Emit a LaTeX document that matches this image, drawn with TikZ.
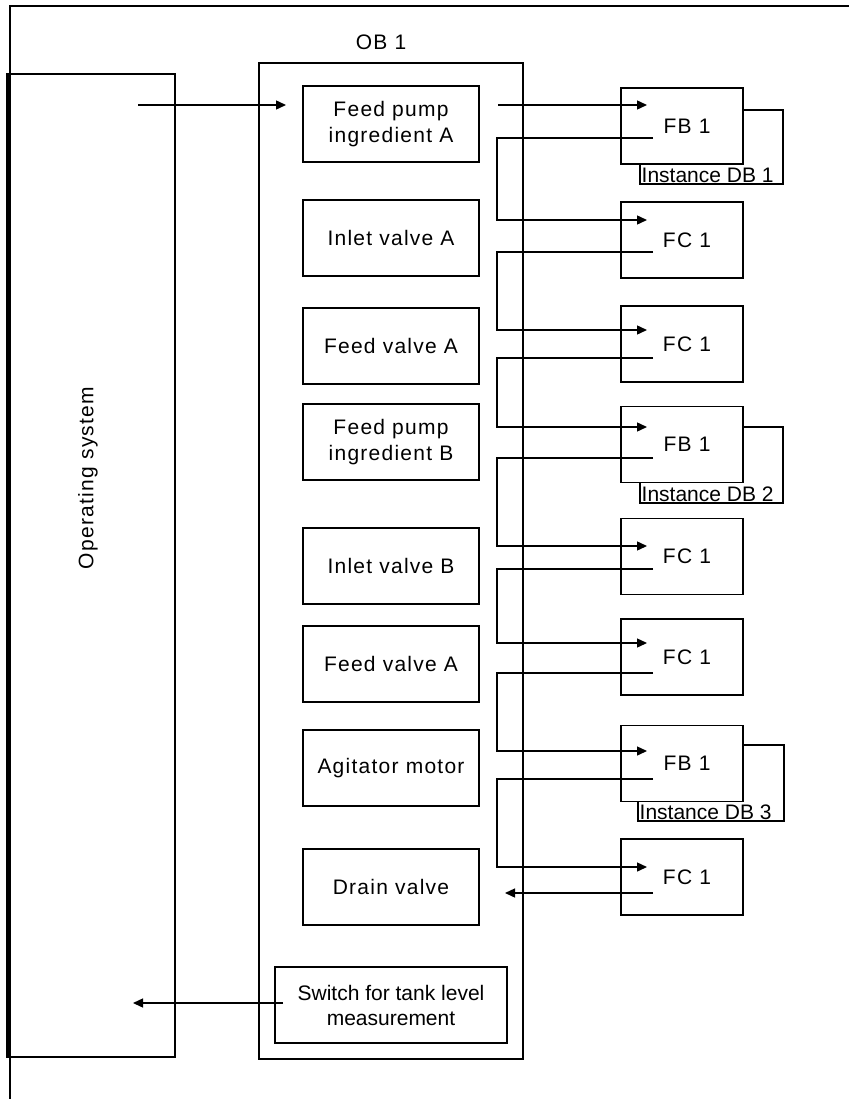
\documentclass[tikz,border=0pt]{standalone}
\usepackage{fontspec}
\setmainfont{Liberation Sans}
\newfontfamily\lsfont[LetterSpace=6]{Liberation Sans}
\usetikzlibrary{arrows.meta}
\begin{document}
\begin{tikzpicture}[x=1pt,y=-1pt,line width=1.4pt,
  txt/.style={font=\lsfont\fontsize{21}{26}\selectfont},
  obbox/.style={draw,fill=white,minimum width=176pt,minimum height=76pt,align=center,inner sep=0pt,txt},
  fbbox/.style={draw,fill=white,minimum width=122pt,minimum height=76pt,inner sep=0pt,txt},
  inst/.style={font=\fontsize{21}{24}\selectfont,inner sep=0pt,anchor=south west},
  arr/.style={-{Triangle[length=10pt,width=9pt]}}]
\useasboundingbox (0,0) rectangle (848,1099);
% outer frame
\draw (10,1099) -- (10,6) -- (850,6);
% operating system
\node[draw,minimum width=166pt,minimum height=983pt,inner sep=0pt] (os) at (92,565.5) {};
\draw[line width=4pt] (os.north west) -- (os.south west);
\node[txt,rotate=90] (ostxt) at (88,478) {Operating system};
% OB1
\node[draw,minimum width=264pt,minimum height=996pt,inner sep=0pt] (ob) at (391,561) {};
\node[txt] (obtxt) at (381,42) {OB 1};
\node[obbox] (b1) at (391,124) {Feed pump\\ingredient A};
\node[obbox] (b2) at (391,238) {Inlet valve A};
\node[obbox] (b3) at (391,346) {Feed valve A};
\node[obbox] (b4) at (391,442) {Feed pump\\ingredient B};
\node[obbox] (b5) at (391,566) {Inlet valve B};
\node[obbox] (b6) at (391,664) {Feed valve A};
\node[obbox] (b7) at (391,768) {Agitator motor};
\node[obbox] (b8) at (391,887) {Drain valve};
\node[obbox,minimum width=232pt,font=\fontsize{21}{25}\selectfont] (b9) at (391,1005) {Switch for tank level\\measurement};
% instance DB frames
\draw (743,110) -- (783,110) -- (783,184) -- (640,184) -- (640,160);
\draw (743,427) -- (783,427) -- (783,503) -- (640,503) -- (640,480);
\draw (743,745) -- (784,745) -- (784,821) -- (638,821) -- (638,798);
% right blocks
\node[fbbox] (r1) at (682,126) {\hspace*{10pt}FB 1};
\node[fbbox] (r2) at (682,240) {\hspace*{10pt}FC 1};
\node[fbbox] (r3) at (682,344) {\hspace*{10pt}FC 1};
\node[fbbox] (r4) at (682,444.5) {\hspace*{10pt}FB 1};
\node[fbbox] (r5) at (682,556.5) {\hspace*{10pt}FC 1};
\node[fbbox] (r6) at (682,657) {\hspace*{10pt}FC 1};
\node[fbbox] (r7) at (682,763.5) {\hspace*{10pt}FB 1};
\node[fbbox] (r8) at (682,877) {\hspace*{10pt}FC 1};
\node[inst] (d1) at (641,183) {Instance DB 1};
\node[inst] (d2) at (641,502) {Instance DB 2};
\node[inst] (d3) at (639,820) {Instance DB 3};
% connector points
\coordinate (osout) at (138,105);
\coordinate (b1in) at (286,105);
\coordinate (b1out) at (498,105);
\coordinate (i1) at (647,105);
\coordinate (o1) at (653,138);
\coordinate (i2) at (647,220);
\coordinate (o2) at (653,252);
\coordinate (i3) at (647,330);
\coordinate (o3) at (653,358);
\coordinate (i4) at (647,427);
\coordinate (o4) at (653,458);
\coordinate (i5) at (647,546);
\coordinate (o5) at (653,569);
\coordinate (i6) at (647,643);
\coordinate (o6) at (653,673);
\coordinate (i7) at (647,751);
\coordinate (o7) at (653,779);
\coordinate (i8) at (647,867);
\coordinate (o8) at (653,893);
\coordinate (b8in) at (505,893);
\coordinate (b9out) at (283,1003);
\coordinate (osin) at (133,1003);
% connectors
\draw[arr] (osout) -- (b1in);
\draw[arr] (b1out) -- (i1);
\draw[arr] (o1) -- ++(-156,0) |- (i2);
\draw[arr] (o2) -- ++(-156,0) |- (i3);
\draw[arr] (o3) -- ++(-156,0) |- (i4);
\draw[arr] (o4) -- ++(-156,0) |- (i5);
\draw[arr] (o5) -- ++(-156,0) |- (i6);
\draw[arr] (o6) -- ++(-156,0) |- (i7);
\draw[arr] (o7) -- ++(-156,0) |- (i8);
\draw[arr] (o8) -- (b8in);
\draw[arr] (b9out) -- (osin);
\end{tikzpicture}
\end{document}
